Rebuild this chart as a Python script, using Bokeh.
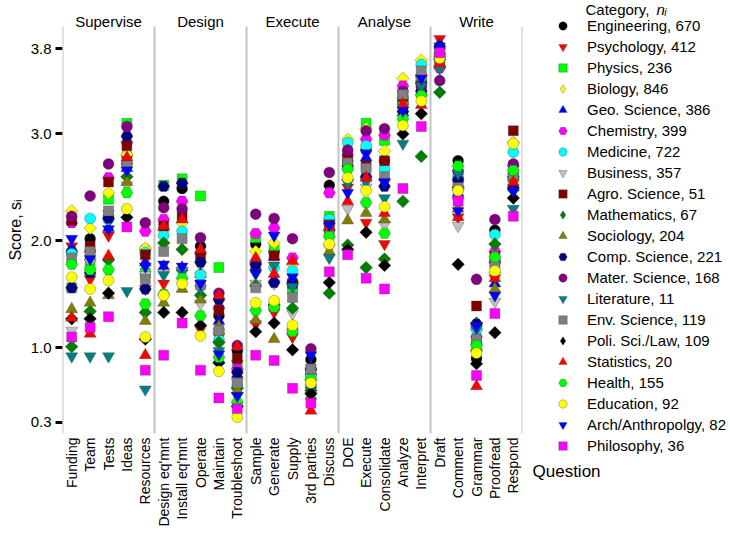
import math
from bokeh.plotting import figure
from bokeh.layouts import row
from bokeh.models import (FactorRange, Range1d, FixedTicker, PrintfTickFormatter, CategoricalAxis,
                          Span, Label, Legend, LegendItem, ColumnDataSource)
from bokeh.embed import file_html
from bokeh.resources import INLINE

groups = ["Supervise", "Design", "Execute", "Analyse", "Write"]
group_questions = [
    ["Funding", "Team", "Tests", "Ideas", "Resources"],
    ["Design eq'mnt", "Install eq'mnt", "Operate", "Maintain", "Troubleshoot"],
    ["Sample", "Generate", "Supply", "3rd parties", "Discuss"],
    ["DOE", "Execute", "Consolidate", "Analyze", "Interpret"],
    ["Draft", "Comment", "Grammar", "Proofread", "Respond"],
]
questions = [q for g in group_questions for q in g]

categories = ["Engineering", "Psychology", "Physics", "Biology", "Geo. Science", "Chemistry",
              "Medicine", "Business", "Agro. Science", "Mathematics", "Sociology", "Comp. Science",
              "Mater. Science", "Literature", "Env. Science", "Poli. Sci./Law", "Statistics",
              "Health", "Education", "Arch/Anthropolgy", "Philosophy"]
counts = [670, 412, 236, 846, 386, 399, 722, 357, 51, 67, 204, 221, 168, 11, 119, 109, 20,
          155, 92, 82, 36]
colors = ["#000000", "#ff0000", "#00ff00", "#ffff00", "#0000ff", "#ff00ff", "#00ffff",
          "#c0c0c0", "#800000", "#008000", "#808000", "#000080", "#800080", "#008080",
          "#808080", "#000000", "#ff0000", "#00ff00", "#ffff00", "#0000ff", "#ff00ff"]
markers = ["circle", "inverted_triangle", "square", "diamond", "triangle", "hex", "circle",
           "inverted_triangle", "square", "diamond", "triangle", "hex", "circle",
           "inverted_triangle", "square", "diamond", "triangle", "hex", "circle",
           "inverted_triangle", "square"]

eng = [1.90, 2.02, 2.22, 2.80, 1.92, 2.37, 2.49, 1.95, 1.30, 0.97, 1.97, 1.90, 1.60, 0.89, 2.52, 2.75, 2.85, 2.75, 3.30, 3.50, 3.75, 2.75, 0.90, 2.10, 2.50]
psy = [1.95, 1.64, 2.05, 2.70, 1.55, 1.60, 1.72, 1.17, 1.10, 0.85, 1.22, 1.33, 1.10, 0.60, 2.13, 2.50, 2.17, 1.97, 3.25, 3.45, 3.89, 2.22, 1.00, 1.65, 2.55]
phys = [1.56, 1.77, 2.39, 3.10, 1.70, 2.52, 2.58, 2.42, 1.75, 0.80, 2.03, 1.93, 1.55, 0.70, 2.23, 2.70, 3.10, 2.94, 3.30, 3.50, 3.78, 2.60, 1.05, 1.80, 2.60]
bio = [2.28, 2.12, 2.45, 2.81, 1.93, 2.10, 2.17, 1.70, 1.15, 0.70, 1.90, 1.98, 1.78, 0.70, 2.20, 2.95, 3.05, 2.84, 3.52, 3.69, 3.72, 2.48, 0.98, 1.70, 2.92]
geo = [1.93, 1.85, 2.12, 2.68, 1.80, 1.76, 1.75, 1.69, 1.25, 0.75, 1.82, 1.85, 1.65, 0.82, 2.19, 2.60, 2.78, 2.60, 3.20, 3.50, 3.83, 2.45, 1.20, 1.60, 2.50]
chem = [2.17, 1.90, 2.59, 2.92, 2.09, 2.20, 2.37, 1.88, 1.37, 0.80, 2.07, 2.12, 1.84, 0.75, 2.45, 2.80, 2.95, 2.99, 3.45, 3.55, 3.62, 2.40, 1.10, 1.90, 2.70]
med = [1.88, 2.21, 2.20, 2.72, 1.89, 2.05, 2.09, 1.68, 1.07, 0.65, 1.80, 1.75, 1.72, 0.74, 2.20, 2.92, 2.89, 2.67, 3.35, 3.65, 3.75, 2.60, 1.17, 2.06, 2.83]
bus = [1.16, 1.80, 2.25, 2.52, 1.68, 1.70, 1.71, 1.41, 1.02, 0.60, 1.60, 1.60, 1.32, 0.55, 1.93, 2.30, 2.50, 2.15, 3.30, 3.50, 3.70, 2.14, 1.02, 1.43, 2.60]
agro = [2.19, 1.95, 2.55, 2.89, 1.87, 2.14, 2.23, 1.86, 1.35, 0.90, 1.75, 1.86, 1.60, 0.80, 2.15, 2.80, 2.70, 2.75, 3.35, 3.45, 3.66, 2.55, 1.39, 1.85, 3.03]
math_ = [1.01, 1.34, 1.82, 2.60, 1.33, 1.98, 1.92, 1.49, 1.05, 0.62, 1.58, 1.40, 1.37, 0.60, 1.51, 1.96, 1.75, 1.83, 2.37, 2.79, 3.39, 2.50, 1.23, 1.97, 2.60]
soc = [1.36, 1.42, 1.49, 2.55, 1.25, 1.42, 1.55, 1.45, 1.20, 0.60, 1.26, 1.08, 1.20, 0.55, 1.90, 2.19, 2.26, 2.20, 3.20, 3.40, 3.65, 2.30, 1.00, 1.55, 2.59]
comp = [1.56, 1.70, 2.21, 2.98, 1.55, 2.51, 2.54, 1.80, 1.45, 0.77, 1.78, 1.61, 1.60, 0.80, 2.10, 2.70, 2.60, 2.51, 3.21, 3.40, 3.82, 2.57, 1.22, 1.80, 2.49]
mater = [2.23, 2.42, 2.72, 3.07, 2.17, 2.31, 2.30, 2.03, 1.51, 1.02, 2.25, 2.21, 2.02, 0.99, 2.64, 2.85, 3.03, 3.05, 3.40, 3.45, 3.50, 2.65, 1.64, 2.20, 2.72]
lit = [0.92, 0.92, 0.92, 1.53, 0.61, 1.68, 1.70, 1.55, 0.97, 0.55, 1.69, 1.77, 1.57, 0.62, 1.84, 2.54, 2.55, 2.40, 2.91, 3.45, 3.61, 2.63, 1.17, 1.78, 2.30]
env = [1.84, 1.90, 2.28, 2.72, 1.64, 1.90, 2.02, 1.59, 1.16, 0.67, 1.56, 1.39, 1.47, 0.80, 2.07, 2.73, 2.68, 2.60, 3.37, 3.59, 3.68, 2.50, 1.08, 1.78, 2.62]
poli = [1.27, 1.27, 1.51, 2.22, 1.08, 1.33, 1.33, 1.21, 0.86, 0.45, 1.15, 1.23, 0.98, 0.57, 1.61, 1.92, 2.08, 1.77, 3.00, 3.19, 3.70, 1.78, 0.85, 1.14, 2.40]
stat = [1.28, 1.13, 1.86, 2.78, 0.93, 2.14, 2.20, 1.92, 1.49, 1.01, 1.84, 1.69, 1.81, 0.41, 2.13, 2.37, 2.59, 2.26, 3.28, 3.27, 3.66, 2.22, 0.64, 1.65, 2.55]
health = [1.78, 1.73, 1.73, 2.45, 1.41, 1.50, 1.65, 1.30, 0.91, 0.49, 1.35, 1.38, 1.15, 0.70, 2.04, 2.67, 2.36, 2.07, 3.14, 3.36, 3.75, 2.70, 1.02, 1.85, 2.66]
edu = [1.66, 1.55, 1.63, 2.30, 1.10, 1.49, 1.60, 1.11, 0.78, 0.35, 1.42, 1.44, 1.21, 0.67, 1.97, 2.59, 2.47, 2.32, 3.08, 3.31, 3.71, 2.47, 0.95, 1.72, 2.91]
arch = [2.02, 1.83, 2.11, 2.66, 1.76, 1.78, 1.76, 1.60, 0.94, 0.55, 1.70, 2.05, 1.66, 0.93, 2.15, 2.45, 2.82, 2.55, 3.22, 3.52, 3.82, 2.28, 1.20, 1.49, 2.47]
phil = [1.10, 1.19, 1.29, 2.13, 0.79, 0.93, 1.23, 0.79, 0.53, 0.43, 0.93, 0.88, 0.62, 0.48, 1.71, 1.87, 1.65, 1.55, 2.49, 3.07, 3.76, 2.37, 0.74, 1.32, 2.23]

series = [eng, psy, phys, bio, geo, chem, med, bus, agro, math_, soc, comp, mater, lit, env,
          poli, stat, health, edu, arch, phil]

y_ticks = [0.3, 1.0, 2.0, 3.0, 3.8]

FONT = "Liberation Sans"
H = 531

# ---------------- main plot ----------------
p = figure(width=524, height=H,
           x_range=FactorRange(factors=questions, range_padding=0, factor_padding=0),
           y_range=Range1d(0.197, 4.006),
           output_backend="svg", toolbar_location=None,
           min_border_left=62, min_border_right=2, min_border_top=26, min_border_bottom=98)
p.frame_align = False
p.outline_line_color = None
p.xgrid.visible = False
p.ygrid.visible = False

bounds = [0]
for g in group_questions:
    bounds.append(bounds[-1] + len(g))
for b in bounds:
    p.add_layout(Span(location=b, dimension="height", line_color="#c4c4c4", line_width=2))

xa = p.below[0]
xa.axis_line_color = None
xa.major_tick_line_color = None
xa.minor_tick_line_color = None
xa.major_tick_out = 0
xa.major_tick_in = 0
xa.major_label_orientation = math.pi / 2
xa.major_label_text_font = FONT
xa.major_label_text_font_size = "14px"
xa.major_label_text_color = "black"
xa.major_label_standoff = 4

p.extra_x_ranges = {"groups": FactorRange(factors=groups, range_padding=0, factor_padding=0)}
ta = CategoricalAxis(x_range_name="groups", axis_line_color=None, major_tick_line_color=None,
                     minor_tick_line_color=None, major_tick_out=0, major_tick_in=0,
                     major_label_standoff=-3,
                     major_label_text_font=FONT, major_label_text_font_size="15px",
                     major_label_text_color="black")
p.add_layout(ta, "above")

ya = p.yaxis[0]
ya.ticker = FixedTicker(ticks=y_ticks)
ya.formatter = PrintfTickFormatter(format="%.1f")
ya.axis_line_color = None
ya.minor_tick_line_color = None
ya.major_tick_line_color = "black"
ya.major_tick_line_width = 3
ya.major_tick_out = 7
ya.major_tick_in = 0
ya.major_label_standoff = 4
ya.major_label_text_font = FONT
ya.major_label_text_font_size = "15px"
ya.major_label_text_color = "black"
ya.axis_label = "Score, s\u1d62"
ya.axis_label_text_font = FONT
ya.axis_label_text_font_size = "16px"
ya.axis_label_text_font_style = "normal"
ya.axis_label_text_color = "black"
ya.axis_label_standoff = 4

size_map = {"circle": 11, "square": 10, "diamond": 9, "triangle": 12,
            "inverted_triangle": 12, "hex": 12}

# ---------------- legend panel (its frame is the whole canvas) ----------------
p2 = figure(width=206, height=H,
            x_range=FactorRange(factors=questions, range_padding=0, factor_padding=0),
            y_range=Range1d(10, 11),
            x_axis_location=None, y_axis_location=None, output_backend="svg",
            toolbar_location=None, min_border=0, min_border_left=0, min_border_right=0,
            min_border_top=0, min_border_bottom=0)
p2.frame_align = False
p2.outline_line_color = None
p2.grid.grid_line_color = None

items = []
for cat, n, col, mk, vals in zip(categories, counts, colors, markers, series):
    common = dict(fill_color=col, line_color="#404040", line_width=0.5, line_alpha=0.7)
    src = ColumnDataSource(dict(q=questions, s=vals))
    if mk == "diamond":
        # a square turned by 45 degrees, as in the reference
        p.scatter("q", "s", source=src, marker="square", size=size_map[mk],
                  angle=math.pi / 4, **common)
    else:
        p.scatter("q", "s", source=src, marker=mk, size=size_map[mk], **common)
    # same data, drawn outside p2's view; only used for the legend glyph
    r2 = p2.scatter("q", "s", source=src, marker=mk, size=size_map[mk], **common)
    items.append(LegendItem(label=f"{cat}, {n}", renderers=[r2]))

legend = Legend(items=items, location=(28, 75), glyph_width=21, glyph_height=21,
                label_height=21, spacing=0, padding=0, margin=0, border_line_color=None,
                background_fill_alpha=0, label_standoff=14, label_text_font=FONT,
                label_text_font_size="15px", label_text_color="black")
p2.add_layout(legend, "center")

p2.add_layout(Label(x=61, y=H - 9, x_units="screen", y_units="screen", text="Category,",
                    text_font=FONT, text_font_size="15px", text_color="black",
                    text_baseline="alphabetic"))
p2.add_layout(Label(x=132, y=H - 9, x_units="screen", y_units="screen", text="n\u1d62",
                    text_font=FONT, text_font_size="15px", text_font_style="italic",
                    text_color="black", text_baseline="alphabetic"))
p2.add_layout(Label(x=8, y=H - 471, x_units="screen", y_units="screen", text="Question",
                    text_font=FONT, text_font_size="17px", text_color="black",
                    text_baseline="alphabetic"))

layout = row(p, p2, spacing=0)
open("out.html", "w").write(file_html(layout, INLINE))
